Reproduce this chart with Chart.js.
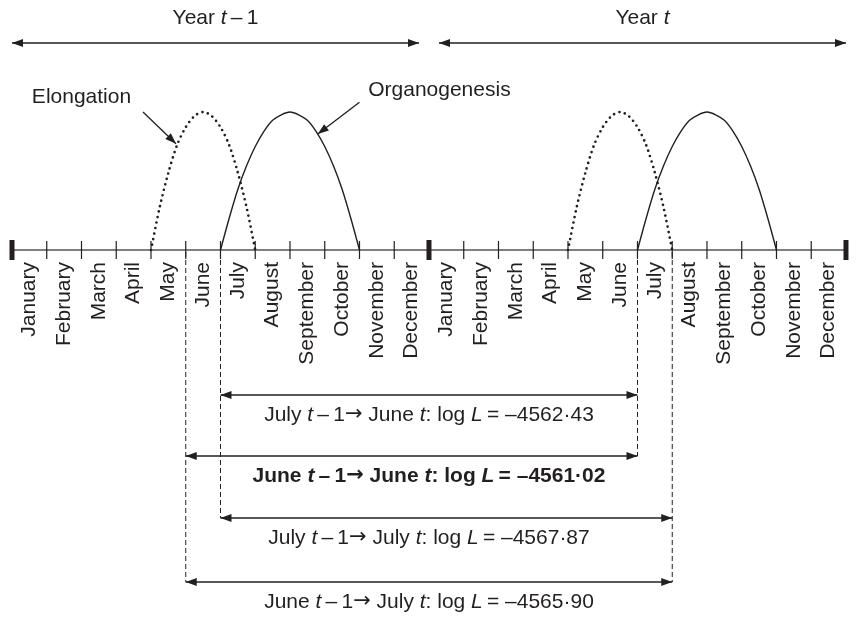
<!DOCTYPE html>
<html>
<head>
<meta charset="utf-8">
<title>Elongation and organogenesis</title>
<script src="https://cdn.jsdelivr.net/npm/chart.js@4.4.0/dist/chart.umd.min.js"></script>
<style>
  html, body { margin: 0; padding: 0; background: #fff; }
  #wrap { width: 862px; height: 618px; }
</style>
</head>
<body>
<div id="wrap"><canvas id="chart"></canvas></div>
<script>
// month tick labels, year t-1 then year t
var months = ['January', 'February', 'March', 'April', 'May', 'June', 'July', 'August', 'September', 'October', 'November', 'December',
              'January', 'February', 'March', 'April', 'May', 'June', 'July', 'August', 'September', 'October', 'November', 'December'];
var yearStart = [0, 12];
var yearEnd = [12, 24];

// curves: x in months from 1 January of year t-1, y relative to the peak
var elongationX1 = [4, 4.25, 4.5, 4.75, 5, 5.25, 5.5, 5.75, 6, 6.25, 6.5, 6.75, 7];
var elongationX2 = [16, 16.25, 16.5, 16.75, 17, 17.25, 17.5, 17.75, 18, 18.25, 18.5, 18.75, 19];
var elongationY = [0, 0.31, 0.56, 0.76, 0.89, 0.97, 1, 0.97, 0.89, 0.76, 0.56, 0.31, 0];

var organoX1 = [6, 6.25, 6.5, 6.75, 7, 7.25, 7.5, 7.75, 8, 8.25, 8.5, 8.75, 9, 9.25, 9.5, 9.75, 10];
var organoX2 = [18, 18.25, 18.5, 18.75, 19, 19.25, 19.5, 19.75, 20, 20.25, 20.5, 20.75, 21, 21.25, 21.5, 21.75, 22];
var organoY = [0, 0.23, 0.44, 0.61, 0.75, 0.86, 0.94, 0.98, 1, 0.98, 0.94, 0.86, 0.75, 0.61, 0.44, 0.23, 0];

// periods compared (month boundaries) and their log likelihoods
var periodFrom = ['July', 'June', 'July', 'June'];
var periodTo = ['June', 'June', 'July', 'July'];
var periodStart = [6, 5, 6, 5];
var periodEnd = [18, 18, 19, 19];
var logL = [-4562.43, -4561.02, -4567.87, -4565.90];
var bestPeriod = 1;

// layout only
var FONT = '"Liberation Sans", Arial, Helvetica, sans-serif';
var ARROW_FONT = '"DejaVu Sans", sans-serif';
var SIZE = 21;
var INK = '#231f20';
var lay = {
  yearTextY: 18, yearArrowY: 43, yearGap: 10,
  tick: 9, bigTick: 10, labelGap: 12,
  rowY: [395, 456, 518, 582], rowTextGap: 20, textCenterMonth: 12,
  elongLabel: [2.0, 1.11], organoLabel: [12.3, 1.16],
  elongPointer: [3.77, 1.0, 4.72, 0.77], organoPointer: [10.0, 1.07, 8.8, 0.84]
};

function pts(xs, ys) {
  return xs.map(function (x, i) { return { x: x, y: ys[i] }; });
}

// seg = [text, italic, useArrowFont]
function fontFor(seg, bold) {
  return (seg[1] ? 'italic ' : '') + (bold ? 'bold ' : '') + SIZE + 'px ' + (seg[2] ? ARROW_FONT : FONT);
}

function richText(ctx, segs, cx, cy, bold) {
  var w = 0;
  segs.forEach(function (s) { ctx.font = fontFor(s, bold); w += ctx.measureText(s[0]).width; });
  var x = cx - w / 2;
  ctx.textAlign = 'left';
  ctx.textBaseline = 'middle';
  segs.forEach(function (s) {
    ctx.font = fontFor(s, bold);
    ctx.fillText(s[0], x, cy);
    x += ctx.measureText(s[0]).width;
  });
}

function head(ctx, x, y, ang) {
  ctx.save();
  ctx.translate(x, y);
  ctx.rotate(ang);
  ctx.beginPath();
  ctx.moveTo(0, 0);
  ctx.lineTo(-11, -4);
  ctx.lineTo(-11, 4);
  ctx.closePath();
  ctx.fill();
  ctx.restore();
}

function arrow(ctx, x1, y1, x2, y2, both) {
  var a = Math.atan2(y2 - y1, x2 - x1);
  ctx.beginPath();
  ctx.moveTo(x1, y1);
  ctx.lineTo(x2, y2);
  ctx.stroke();
  head(ctx, x2, y2, a);
  if (both) head(ctx, x1, y1, a + Math.PI);
}

function fmt(v) {
  return '\u2013' + Math.abs(v).toFixed(2).replace('.', '\u00b7');
}

var diagram = {
  id: 'diagram',
  beforeDatasetsDraw: function (chart) {
    var ctx = chart.ctx, xs = chart.scales.x, ys = chart.scales.y;
    var ay = ys.getPixelForValue(0);
    ctx.save();
    ctx.strokeStyle = '#555';
    ctx.lineWidth = 1.5;
    ctx.beginPath();
    ctx.moveTo(xs.getPixelForValue(0), ay);
    ctx.lineTo(xs.getPixelForValue(24), ay);
    ctx.stroke();
    ctx.strokeStyle = INK;
    ctx.fillStyle = INK;
    for (var k = 0; k <= 24; k++) {
      var x = xs.getPixelForValue(k);
      if (k % 12 === 0) {
        ctx.fillRect(x - 2.5, ay - lay.bigTick, 5, lay.bigTick * 2);
      } else {
        ctx.lineWidth = 1.2;
        ctx.beginPath();
        ctx.moveTo(x, ay - lay.tick);
        ctx.lineTo(x, ay + lay.tick);
        ctx.stroke();
      }
    }
    ctx.restore();
  },
  afterDatasetsDraw: function (chart) {
    var ctx = chart.ctx, xs = chart.scales.x, ys = chart.scales.y;
    var ay = ys.getPixelForValue(0);
    ctx.save();
    ctx.fillStyle = INK;
    ctx.strokeStyle = INK;

    // year arrows and titles
    ctx.lineWidth = 1.5;
    for (var i = 0; i < yearStart.length; i++) {
      var xa = xs.getPixelForValue(yearStart[i]) + (i > 0 ? lay.yearGap : 0);
      var xb = xs.getPixelForValue(yearEnd[i]) - (i === 0 ? lay.yearGap : 0);
      arrow(ctx, xa, lay.yearArrowY, xb, lay.yearArrowY, true);
      var segs = i === 0 ? [['Year ', 0], ['t', 1], ['\u2009\u2013\u20091', 0]] : [['Year ', 0], ['t', 1]];
      richText(ctx, segs, (xa + xb) / 2, lay.yearTextY, false);
    }

    // curve names and pointers
    richText(ctx, [['Elongation', 0]], xs.getPixelForValue(lay.elongLabel[0]), ys.getPixelForValue(lay.elongLabel[1]), false);
    richText(ctx, [['Organogenesis', 0]], xs.getPixelForValue(lay.organoLabel[0]), ys.getPixelForValue(lay.organoLabel[1]), false);
    ctx.lineWidth = 1.3;
    [lay.elongPointer, lay.organoPointer].forEach(function (p) {
      arrow(ctx, xs.getPixelForValue(p[0]), ys.getPixelForValue(p[1]), xs.getPixelForValue(p[2]), ys.getPixelForValue(p[3]), false);
    });

    // month labels
    ctx.font = SIZE + 'px ' + FONT;
    ctx.textAlign = 'right';
    ctx.textBaseline = 'middle';
    months.forEach(function (m, k) {
      ctx.save();
      ctx.translate(xs.getPixelForValue(k + 0.5), ay + lay.labelGap);
      ctx.rotate(-Math.PI / 2);
      ctx.fillText(m, 0, 0);
      ctx.restore();
    });

    // dashed guides down to the lowest period that uses each boundary
    var lowest = {};
    periodStart.forEach(function (b, r) { lowest[b] = Math.max(lowest[b] || 0, lay.rowY[r]); });
    periodEnd.forEach(function (b, r) { lowest[b] = Math.max(lowest[b] || 0, lay.rowY[r]); });
    ctx.lineWidth = 1;
    ctx.setLineDash([5, 3]);
    Object.keys(lowest).forEach(function (b) {
      var x = xs.getPixelForValue(+b);
      ctx.beginPath();
      ctx.moveTo(x, ay + 2);
      ctx.lineTo(x, lowest[b]);
      ctx.stroke();
    });
    ctx.setLineDash([]);

    // period arrows with their log L
    ctx.lineWidth = 1.4;
    var cx = xs.getPixelForValue(lay.textCenterMonth);
    for (var r = 0; r < periodStart.length; r++) {
      var y = lay.rowY[r];
      arrow(ctx, xs.getPixelForValue(periodStart[r]), y, xs.getPixelForValue(periodEnd[r]), y, true);
      var segs2 = [[periodFrom[r] + ' ', 0], ['t', 1], ['\u2009\u2013\u20091', 0], ['\u2192', 0, 1], [' ' + periodTo[r] + ' ', 0], ['t', 1],
                   [': log ', 0], ['L', 1], ['\u2009= ' + fmt(logL[r]), 0]];
      richText(ctx, segs2, cx, y + lay.rowTextGap, r === bestPeriod);
    }
    ctx.restore();
  }
};

var ctx = document.getElementById('chart').getContext('2d');
var chart = new Chart(ctx, {
    type: 'scatter',
    data: {
        datasets: [
            { label: 'Elongation', data: pts(elongationX1, elongationY), showLine: true, borderColor: INK, borderWidth: 2.7,
              borderDash: [0, 5.6], borderCapStyle: 'round', pointRadius: 0, tension: 0.3 },
            { label: 'Elongation', data: pts(elongationX2, elongationY), showLine: true, borderColor: INK, borderWidth: 2.7,
              borderDash: [0, 5.6], borderCapStyle: 'round', pointRadius: 0, tension: 0.3 },
            { label: 'Organogenesis', data: pts(organoX1, organoY), showLine: true, borderColor: INK, borderWidth: 1.4,
              pointRadius: 0, tension: 0.3 },
            { label: 'Organogenesis', data: pts(organoX2, organoY), showLine: true, borderColor: INK, borderWidth: 1.4,
              pointRadius: 0, tension: 0.3 }
        ]
    },
    options: {
        responsive: true,
        maintainAspectRatio: false,
        animation: false,
        layout: { padding: 0 },
        plugins: { legend: { display: false }, tooltip: { enabled: false } },
        scales: {
            x: { type: 'linear', display: false, min: -0.3453, max: 24.461 },
            y: { type: 'linear', display: false, min: -2.6667, max: 1.8116 }
        }
    },
    plugins: [diagram]
});
</script>
</body>
</html>
